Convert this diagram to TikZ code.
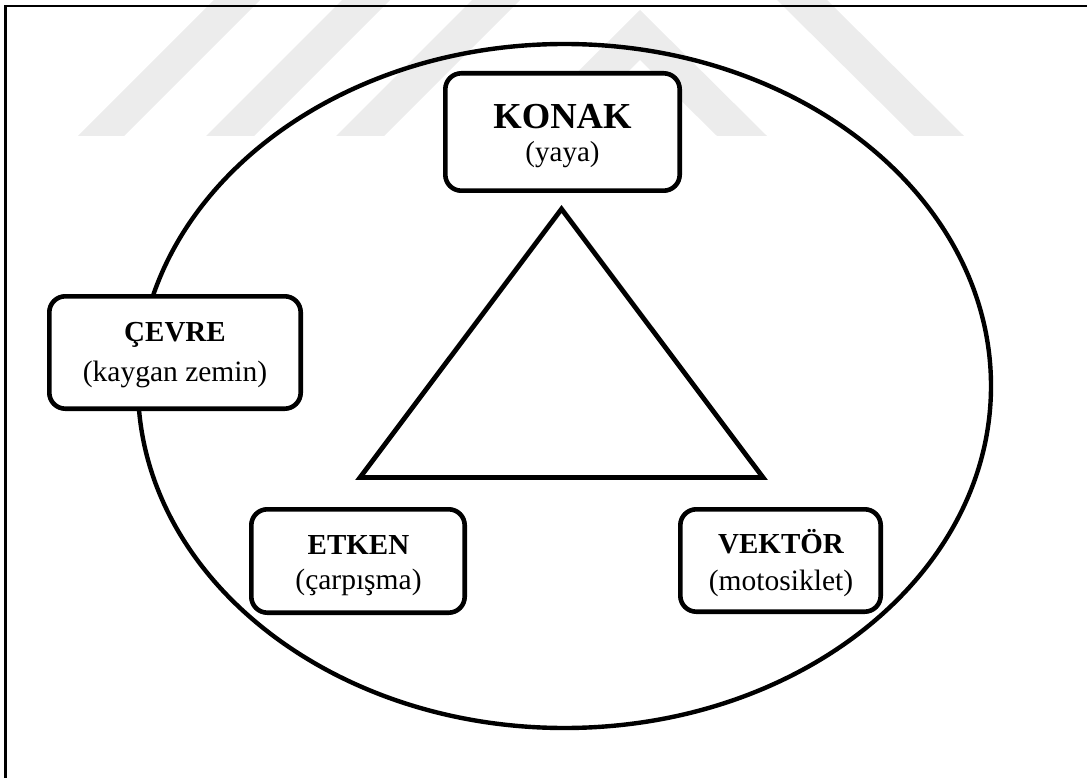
\documentclass[tikz,border=0pt]{standalone}
\usepackage{fontspec}
\setmainfont{Liberation Serif}
\definecolor{wmgray}{RGB}{236,236,236}
\begin{document}
\begin{tikzpicture}[x=1pt,y=-1pt,line join=miter,
  box/.style={draw, line width=4.6pt, rounded corners=16pt, fill=white, inner sep=0pt},
  lbl/.style={anchor=base, inner sep=0pt, font=\fontsize{29.5}{34}\selectfont},
  hdr/.style={anchor=base, inner sep=0pt, font=\bfseries\fontsize{29}{34}\selectfont},
  wm/.style={fill=wmgray, draw=none},
  frame/.style={line width=2.6pt},
  outline/.style={line width=4.4pt},
  tri/.style={line width=4.8pt}]
\useasboundingbox (0,0) rectangle (1087,778);
% watermark
\fill[wm] (78,136) -- (124,136) -- (260,0) -- (214,0) -- cycle;
\fill[wm] (206,136) -- (254,136) -- (390,0) -- (342,0) -- cycle;
\fill[wm] (336,136) -- (384,136) -- (520,0) -- (472,0) -- cycle;
\fill[wm] (513,136) -- (640,10) -- (767,136) -- (717,136) -- (640,60) -- (563,136) -- cycle;
\fill[wm] (777,0) -- (827,0) -- (964,136) -- (914,136) -- cycle;
% frame
\draw[frame] (1087,6) -- (5.7,6) -- (5.7,778);
% ellipse
\draw[outline] (564.5,386) ellipse [x radius=426.5, y radius=342];
% triangle
\coordinate (tA) at (561.5,209);
\coordinate (tB) at (763,477.5);
\coordinate (tC) at (360,477.5);
\draw[tri] (tA) -- (tB) -- (tC) -- cycle;
% boxes
\node[box, minimum width=234.4pt, minimum height=117.4pt] (konak) at (562.5,132) {};
\node[box, minimum width=251.4pt, minimum height=112.4pt] (cevre) at (175,352.5) {};
\node[box, minimum width=213.4pt, minimum height=103.4pt] (etken) at (358,561) {};
\node[box, minimum width=200.4pt, minimum height=102.4pt] (vektor) at (780.5,560.5) {};
% labels
\node[hdr, font=\bfseries\fontsize{36.6}{40}\selectfont] (konakA) at (562.5,128.3) {KONAK};
\node[lbl, font=\fontsize{29}{34}\selectfont] (konakB) at (562.5,162) {(yaya)};
\node[hdr] (cevreA) at (175,341.7) {ÇEVRE};
\node[lbl] (cevreB) at (175,381) {(kaygan zemin)};
\node[hdr] (etkenA) at (358.5,554) {ETKEN};
\node[lbl] (etkenB) at (358.5,589) {(çarpışma)};
\node[hdr] (vektorA) at (781,553) {VEKTÖR};
\node[lbl] (vektorB) at (781,590.7) {(motosiklet)};
\end{tikzpicture}
\end{document}
